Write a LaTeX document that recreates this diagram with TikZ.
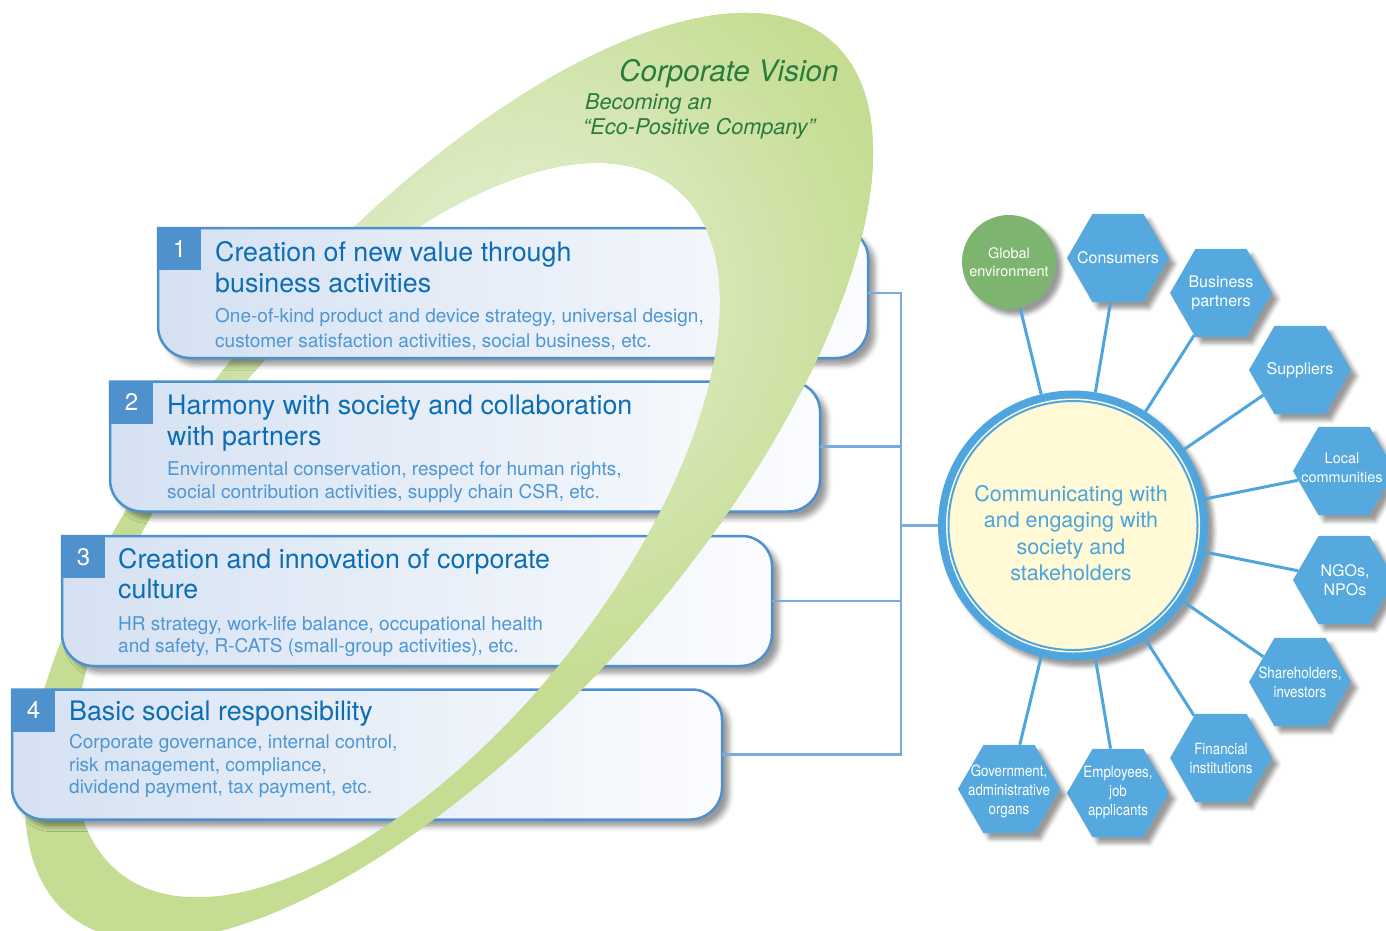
\documentclass[tikz,border=0pt]{standalone}
\usepackage{fontspec}
\setmainfont{TeX Gyre Heros}
\newfontfamily\condf[FakeStretch=0.86]{TeX Gyre Heros}
\usetikzlibrary{shapes.geometric,shadows.blur}
\definecolor{ringG}{HTML}{C5DD93}
\definecolor{ringP}{HTML}{E8F1DA}
\definecolor{boxB}{HTML}{4D90CF}
\definecolor{boxL}{HTML}{D5E1F2}
\definecolor{boxR}{HTML}{FBFCFE}
\definecolor{tabC}{HTML}{4F91CD}
\definecolor{titleC}{HTML}{0B6DB5}
\definecolor{subC}{HTML}{4D96D5}
\definecolor{connC}{HTML}{7AABDF}
\definecolor{spokeC}{HTML}{4FA6DD}
\definecolor{hexC}{HTML}{55A9DE}
\definecolor{globC}{HTML}{7DB46F}
\definecolor{bigB}{HTML}{4FA6DE}
\definecolor{paleY}{HTML}{FFFCE8}
\definecolor{creamC}{HTML}{FFF9D6}
\definecolor{circC}{HTML}{4AA5DC}
\definecolor{visC}{HTML}{2A7B3E}
\newcommand\ringclippath{%
  \pgfpathellipse{\pgfpoint{449pt}{-477pt}}{\pgfpoint{383pt}{435.5pt}}{\pgfpoint{-181.7pt}{159.8pt}}%
  \pgfpathellipse{\pgfpoint{397pt}{-530pt}}{\pgfpoint{278.4pt}{342.1pt}}{\pgfpoint{-163.7pt}{133.2pt}}%
  \pgfseteorule\pgfusepath{clip}}
\newcommand\ringpaint{%
  \fill[ringG] (0,-10) rectangle (1400,940);
  \shade[inner color=ringP, outer color=ringG] (520,300) circle [radius=380pt];}
\newcommand\stakebox[1]{%
  \path[boxshape] (#1.north west) -- ([xshift=-30pt]#1.north east)
    arc[start angle=90,end angle=0,radius=30pt] -- ([yshift=32pt]#1.south east)
    arc[start angle=0,end angle=-90,radius=32pt] -- ([xshift=32pt]#1.south west)
    arc[start angle=-90,end angle=-180,radius=32pt] -- cycle;}
\tikzset{
  boxshape/.style={draw=boxB, line width=2.5pt, left color=boxL, right color=boxR,
    blur shadow={shadow xshift=7pt, shadow yshift=-7pt, shadow blur radius=5pt, shadow opacity=40}},
  anchorbox/.style={minimum width=710pt, minimum height=130pt, inner sep=0pt, outer sep=0pt},
  tabnum/.style={text=white, inner sep=0pt, font=\fontsize{24}{24}\selectfont},
  ttl/.style={anchor=base west, inner sep=0pt, text=titleC, font=\fontsize{26.8}{30}\selectfont},
  subt/.style={anchor=base west, inner sep=0pt, text=subC, font=\fontsize{19}{22}\selectfont},
  conn/.style={draw=connC, line width=2.5pt},
  spoke/.style={draw=spokeC, line width=3pt},
  softshadow/.style={blur shadow={shadow xshift=6pt, shadow yshift=-6pt, shadow blur radius=4pt, shadow opacity=40}},
  hex/.style={regular polygon, regular polygon sides=6, minimum size=102pt, inner sep=0pt, fill=hexC, softshadow},
  hext/.style={text=white, align=center, inner sep=0pt, font=\fontsize{16}{19}\selectfont},
  hexs/.style={text=white, align=center, inner sep=0pt, font=\fontsize{14.5}{18.5}\selectfont},
  hexc/.style={text=white, align=center, inner sep=0pt, font=\condf\fontsize{15.5}{19}\selectfont},
  vis/.style={anchor=base west, inner sep=0pt, text=visC},
}
\begin{document}
\begin{tikzpicture}[x=1pt,y=-1pt]
\useasboundingbox (0,0) rectangle (1386,930);
% ring behind
\begin{scope}
  \ringclippath
  \ringpaint
\end{scope}
% boxes
\node[anchorbox] (b1) at (513,293) {};
\node[anchorbox] (b2) at (465,446.5) {};
\node[anchorbox] (b3) at (417,601) {};
\node[anchorbox] (b4) at (367,754.5) {};
\stakebox{b1}
\stakebox{b2}
\stakebox{b3}
\stakebox{b4}
\fill[tabC] (b1.north west) rectangle ++(43,42);
\fill[tabC] (b2.north west) rectangle ++(43,42);
\fill[tabC] (b3.north west) rectangle ++(43,42);
\fill[tabC] (b4.north west) rectangle ++(43,42);
% ring in front (right arm)
\begin{scope}
  \clip (560,-10) -- (1400,-10) -- (1400,940) -- (250,940) -- cycle;
  \ringclippath
  \ringpaint
\end{scope}
% numbers
\node[tabnum] (n1) at (179.5,249) {1};
\node[tabnum] (n2) at (131.5,402) {2};
\node[tabnum] (n3) at (83.5,557) {3};
\node[tabnum] (n4) at (33.5,710) {4};
% box texts
\node[ttl] (t1a) at (215,261) {Creation of new value through};
\node[ttl] (t1b) at (215,292) {business activities};
\node[subt] (s1a) at (215,322) {One-of-kind product and device strategy, universal design,};
\node[subt] (s1b) at (215,347) {customer satisfaction activities, social business, etc.};
\node[ttl] (t2a) at (167,414) {Harmony with society and collaboration};
\node[ttl] (t2b) at (167,445) {with partners};
\node[subt] (s2a) at (167,475) {Environmental conservation, respect for human rights,};
\node[subt] (s2b) at (167,498) {social contribution activities, supply chain CSR, etc.};
\node[ttl] (t3a) at (118,568) {Creation and innovation of corporate};
\node[ttl] (t3b) at (118,598) {culture};
\node[subt] (s3a) at (118,630) {HR strategy, work-life balance, occupational health};
\node[subt] (s3b) at (118,652) {and safety, R-CATS (small-group activities), etc.};
\node[ttl] (t4a) at (69,720) {Basic social responsibility};
\node[subt] (s4a) at (69,748) {Corporate governance, internal control,};
\node[subt] (s4b) at (69,771) {risk management, compliance,};
\node[subt] (s4c) at (69,793) {dividend payment, tax payment, etc.};
% corporate vision
\node[vis, font=\itshape\fontsize{29.6}{30}\selectfont] (cv) at (619,81) {Corporate Vision};
\node[vis, font=\itshape\fontsize{21.7}{24}\selectfont] (cv2) at (585,109) {Becoming an};
\node[vis, font=\itshape\fontsize{21.7}{24}\selectfont] (cv3) at (583,134) {“Eco-Positive Company”};
% big circle
\node[circle, minimum size=270pt, inner sep=0pt, outer sep=0pt, fill=bigB, softshadow] (big) at (1073,525.5) {};
\fill[paleY] (big.center) circle [radius=127pt];
\fill[creamC] (big.center) circle [radius=123.5pt];
\draw[bigB, line width=2pt] (big.center) circle [radius=124.5pt];
\node[align=center, text=circC, inner sep=0pt, font=\fontsize{21.5}{26.5}\selectfont] (ctext) at (1071,533) {Communicating with\\and engaging with\\society and\\stakeholders};
% left connectors
\coordinate (bus) at (901,525.5);
\draw[conn] (b1.east) -- (b1.east -| bus) -- (b4.east -| bus) -- (b4.east);
\draw[conn] (b2.east) -- (b2.east -| bus);
\draw[conn] (b3.east) -- (b3.east -| bus);
\draw[conn] (bus) -- (big);
% stakeholders
\node[circle, minimum size=94pt, inner sep=0pt, fill=globC, softshadow] (glob) at (1009,262) {};
\node[hex] (cons) at (1118,258) {};
\node[hex] (busi) at (1221,293) {};
\node[hex] (supp) at (1300,370) {};
\node[hex] (loc) at (1344,471) {};
\node[hex] (ngo) at (1344,580) {};
\node[hex] (share) at (1300,682) {};
\node[hex] (fin) at (1221,758) {};
\node[hex] (emp) at (1118,793) {};
\node[hex] (gov) at (1009,789) {};
\foreach \n in {glob,cons,busi,supp,loc,ngo,share,fin,emp,gov}{\draw[spoke] (big) -- (\n);}
\node[hexs] (globT) at (glob) {Global\\environment};
\node[hext] (consT) at (cons) {Consumers};
\node[hext] (busiT) at (busi) {Business\\partners};
\node[hext] (suppT) at (supp) {Suppliers};
\node[hexs] (locT) at (1342,468) {Local\\communities};
\node[hext] (ngoT) at (1345,580) {NGOs,\\NPOs};
\node[hexc] (shareT) at (share) {Shareholders,\\investors};
\node[hexc] (finT) at (fin) {Financial\\institutions};
\node[hexc] (empT) at (emp) {Employees,\\job\\applicants};
\node[hexc] (govT) at (1009,791) {Government,\\administrative\\organs};
\end{tikzpicture}
\end{document}
